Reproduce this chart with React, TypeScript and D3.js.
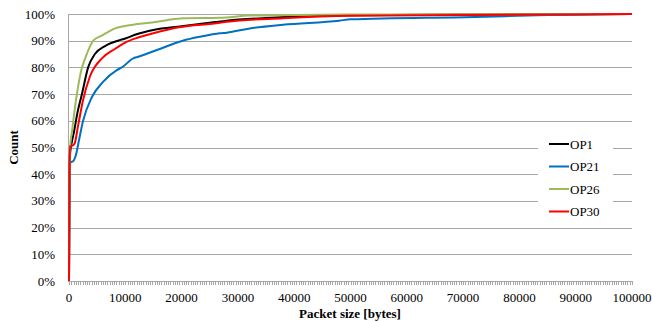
import * as d3 from 'd3';

const xTicks = d3.range(0, 100001, 10000);
const yTicks = [0, 10, 20, 30, 40, 50, 60, 70, 80, 90, 100];

const op1Sizes = [0, 100, 200, 500, 900, 1500, 2300, 3400, 4600, 6400, 8700, 10000, 12000, 15000, 20000, 26000, 28000, 35000, 50000, 70000, 100000];
const op1Values = [0, 40, 48, 52, 56, 63, 70, 80, 85, 88, 90, 90.8, 92.4, 94, 95.4, 97, 97.5, 98.5, 99.5, 99.8, 100];

const op21Sizes = [0, 100, 300, 700, 1200, 1800, 2500, 4100, 6000, 8500, 9400, 11400, 12300, 15600, 20200, 23300, 26800, 28000, 32100, 38000, 48000, 50000, 72000, 85000, 100000];
const op21Values = [0, 35, 44.5, 44.8, 47, 53, 60, 69, 74.5, 79, 80, 83.4, 84, 86.5, 90, 91.5, 92.8, 93, 94.6, 96, 97.5, 98, 98.9, 99.6, 100];

const op26Sizes = [0, 100, 200, 530, 1400, 2300, 2800, 4300, 5900, 8200, 11400, 14400, 17400, 20200, 26800, 32100, 40000, 50000, 70000, 100000];
const op26Values = [0, 42, 50, 56, 70, 80, 83, 90, 92, 94.6, 96, 96.7, 97.7, 98.4, 98.6, 99.4, 99.6, 99.8, 99.9, 100];

const op30Sizes = [0, 100, 200, 600, 1000, 1600, 2500, 3700, 5900, 8200, 9900, 12300, 15000, 19500, 26800, 28000, 38000, 50000, 70000, 90000, 100000];
const op30Values = [0, 45, 50.5, 50.7, 51.5, 58, 67.8, 76.5, 83.5, 87, 89.2, 91.2, 92.8, 95, 96.7, 97.1, 98.4, 99.3, 99.6, 99.8, 100];

const seriesNames = ['OP1', 'OP21', 'OP26', 'OP30'];
const seriesColors = ['#000000', '#0070C0', '#9BBB59', '#FF0000'];
const seriesSizes = [op1Sizes, op21Sizes, op26Sizes, op30Sizes];
const seriesValues = [op1Values, op21Values, op26Values, op30Values];

export default function App() {
  const width = 652;
  const height = 322;
  const margin = { top: 14, right: 20, bottom: 41, left: 69 };
  const font = "'Liberation Serif', serif";

  const x = d3.scaleLinear().domain([0, 100000]).range([margin.left, 632]);
  const y = d3.scaleLinear().domain([0, 100]).range([height - margin.bottom, margin.top]);

  const line = d3
    .line<[number, number]>()
    .x(d => x(d[0]))
    .y(d => y(d[1]))
    .curve(d3.curveMonotoneX);

  const minorTicks = d3.range(0, 100001, 400);

  // legend box
  const lg = { x: 538, y: 126, w: 75, h: 96 };

  return (
    <svg
      width={width}
      height={height}
      style={{ position: 'absolute', left: 0, top: 0, background: '#fff', fontFamily: font }}
    >
      {/* gridlines */}
      {yTicks.map(t => (
        <line
          key={'g' + t}
          x1={x(0) - 1}
          x2={x(100000)}
          y1={Math.round(y(t)) + 0.5}
          y2={Math.round(y(t)) + 0.5}
          stroke="#a6a6a6"
          strokeWidth={1}
        />
      ))}
      {/* y axis */}
      <line x1={x(0) - 0.5} x2={x(0) - 0.5} y1={y(100)} y2={y(0)} stroke="#a6a6a6" />
      {yTicks.map(t => (
        <text key={'yl' + t} x={55} y={y(t) + 4.5} fontSize={13} textAnchor="end" fill="#000">
          {t + '%'}
        </text>
      ))}
      {/* x axis minor ticks */}
      {minorTicks.map(t => (
        <line
          key={'m' + t}
          x1={Math.round(x(t)) + 0.5}
          x2={Math.round(x(t)) + 0.5}
          y1={y(0)}
          y2={y(0) + 4}
          stroke="#a6a6a6"
          strokeWidth={1}
        />
      ))}
      {xTicks.map(t => (
        <text key={'xl' + t} x={x(t)} y={302} fontSize={13} textAnchor="middle" fill="#000">
          {t}
        </text>
      ))}
      {/* series */}
      {seriesNames.map((name, i) => (
        <path
          key={name}
          d={line(seriesSizes[i].map((s, j) => [s, seriesValues[i][j]] as [number, number])) || ''}
          fill="none"
          stroke={seriesColors[i]}
          strokeWidth={2}
          strokeLinejoin="round"
        />
      ))}
      {/* legend */}
      <rect x={lg.x} y={lg.y} width={lg.w} height={lg.h} fill="#fff" />
      {seriesNames.map((name, i) => (
        <g key={'lg' + name} transform={`translate(549,${144 + i * 22.5})`}>
          <line x1={0} x2={20} y1={0} y2={0} stroke={seriesColors[i]} strokeWidth={2} />
          <text x={21} y={4.5} fontSize={13} fill="#000">
            {name}
          </text>
        </g>
      ))}
      {/* axis titles */}
      <text x={350} y={318} fontSize={13} fontWeight="bold" textAnchor="middle" fill="#000">
        Packet size [bytes]
      </text>
      <text
        transform={`translate(18,${(y(0) + y(100)) / 2}) rotate(-90)`}
        fontSize={13}
        fontWeight="bold"
        textAnchor="middle"
        fill="#000"
      >
        Count
      </text>
    </svg>
  );
}
